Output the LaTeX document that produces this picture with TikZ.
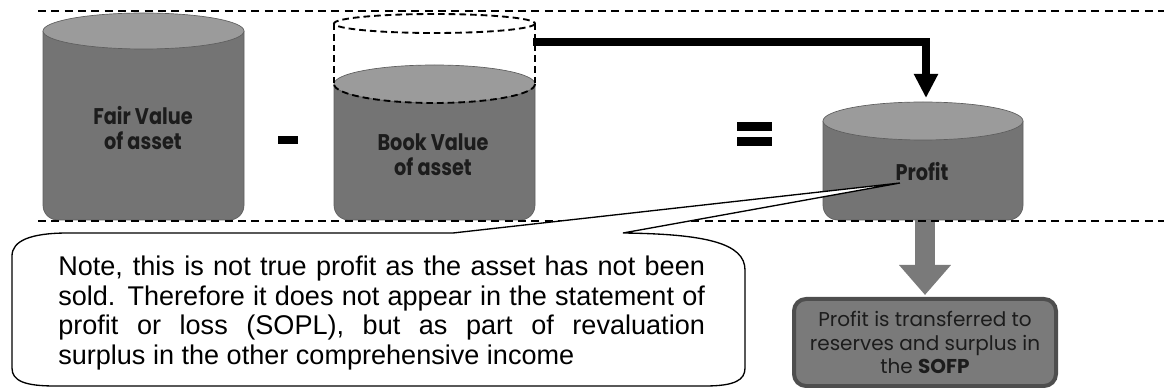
\documentclass[tikz,border=0pt]{standalone}
\usepackage{fontspec}
\setmainfont{Liberation Sans}
\newfontfamily\geofont{Poppins}
\newfontfamily\geonarrow{Poppins}[FakeStretch=0.85]
\usetikzlibrary{arrows.meta}
\setlength\parindent{0pt}

\definecolor{drumside}{HTML}{747474}
\definecolor{drumtop}{HTML}{9B9B9B}
\definecolor{drumedge}{HTML}{5E5E5E}
\definecolor{boxfill}{HTML}{7A7A7A}
\definecolor{boxedge}{HTML}{4E4E4E}
\definecolor{labelink}{HTML}{1C1C1C}

% cylinder: left x, right x, lid centre y, lid y-radius, base y
\newcommand\drawdrum[5]{%
  \path[drumbody] (#1,#3) -- (#1,#5) -- (#2,#5) -- (#2,#3);
  \path[drumlid] ({(#1+#2)/2},#3) ellipse[x radius={(#2-#1)/2}, y radius=#4];
}

\begin{document}
\begin{tikzpicture}[x=0.75pt,y=-0.75pt,
  drumbody/.style={fill=drumside, draw=drumedge, line width=0.5pt, rounded corners=11pt},
  drumlid/.style={fill=drumtop, draw=drumedge, line width=0.5pt},
  drumlabel/.style={font=\geonarrow\bfseries\fontsize{17}{18.75}\selectfont, text=labelink, align=center, inner sep=0},
  ghost/.style={line width=1.4pt, dash pattern=on 5pt off 3pt},
  guide/.style={dash pattern=on 6pt off 4pt},
  opsign/.style={fill=black, inner sep=0}]
\useasboundingbox (0,0) rectangle (1164,388);

% the three containers
\drawdrum{43}{244}{31}{18}{220}
\drawdrum{334}{535}{84}{19}{220}
\drawdrum{823}{1023}{121}{19}{220}

% outline of the full container behind the book value
\draw[ghost] (434.5,23.5) ellipse[x radius=100.5, y radius=9.5];
\draw[ghost] (334,23.5) -- (334,84) (535,23.5) -- (535,84);
\draw[ghost] (535,84) arc[start angle=0, end angle=180, x radius=100.5, y radius=19];

% operators
\node[opsign, minimum width=15pt, minimum height=6pt] (minus) at (288,140) {};
\node[opsign, minimum width=26.25pt, minimum height=6.75pt] (eqTop) at (754.5,126.5) {};
\node[opsign, minimum width=26.25pt, minimum height=6.75pt] (eqBottom) at (754.5,141.5) {};

% difference flows into the profit container
\coordinate (ghostRim) at (533,42);
\coordinate (profitLid) at (926,98);
\draw[line width=6pt, line join=miter, -{Triangle[length=18pt,width=17pt]}] (ghostRim) -| (profitLid);

% transfer box and its arrow
\node[fill=boxfill, draw=boxedge, line width=3pt, rounded corners=9pt,
      minimum width=196.5pt, minimum height=65.25pt, inner sep=0,
      font=\geofont\fontsize{15}{17.6}\selectfont, align=center, text=labelink]
  (sofp) at (925,342.5) {Profit is transferred to\\reserves and surplus in\\the \textbf{SOFP}};
\coordinate (profitBase) at (925,220);
\draw[draw=boxfill, line width=15pt, -{Triangle[length=22.5pt,width=37.5pt]}, shorten >=1.5pt] (profitBase) -- (sofp.north);

% dashed guide lines
\coordinate (topL) at (38,11);
\coordinate (topR) at (1164,11);
\coordinate (baseL) at (38,221);
\coordinate (baseR) at (1164,221);
\draw[guide, line width=0.9pt] (topL) -- (topR);
\draw[guide, line width=1.6pt] (baseL) -- (baseR);

% callout pointing at the profit
\coordinate (calloutTip) at (900,183);
\draw[fill=white, line width=1pt, line join=miter]
  (623,233) .. controls (705,234) and (745,243) .. (745,270)
  -- (745,368) .. controls (745,380) and (735,386) .. (705,386)
  -- (55,386) .. controls (25,386) and (12,381) .. (12,368)
  -- (12,256) .. controls (12,241) and (30,233) .. (68,233)
  -- (453,233) -- (calloutTip) -- cycle;
\node[anchor=north west, inner sep=0, text width=485pt, align=justify,
      font=\fontsize{20.3}{22.1}\selectfont]
  (note) at (58,256) {\tolerance=10000 Note, this is not true profit as the asset has not been\linebreak
  sold. Therefore it does not appear in the statement of\linebreak
  profit or loss (SOPL), but as part of revaluation\linebreak
  surplus in the other comprehensive income};

% container labels
\node[drumlabel] (fairTxt) at (143,128) {Fair Value\\of asset};
\node[drumlabel] (bookTxt) at (433,155) {Book Value\\of asset};
\node[drumlabel] (profitTxt) at (922,172) {Profit};
\end{tikzpicture}
\end{document}
